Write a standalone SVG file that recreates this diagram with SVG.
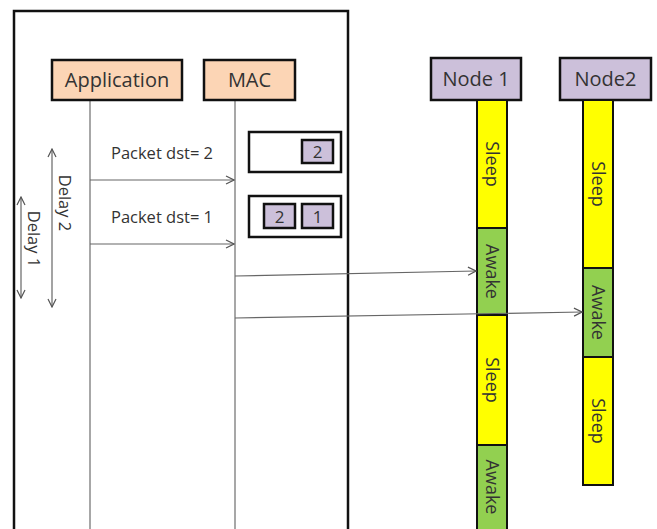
<svg xmlns="http://www.w3.org/2000/svg" width="657" height="529" viewBox="0 0 657 529">
  <style>
    text { font-family: "Open Sans", "Liberation Sans", sans-serif; fill: #333; }
    .box { stroke: #111; stroke-width: 2.5; }
    .app { fill: #fcd5b5; }
    .node { fill: #ccc0da; }
    .life { stroke: #8a8a8a; stroke-width: 1.5; fill: none; }
    .msg { stroke: #666; stroke-width: 1.2; fill: none; }
    .sleep { fill: #ffff00; stroke: #111; stroke-width: 2; }
    .awake { fill: #92d050; stroke: #111; stroke-width: 2; }
    .lbl { font-size: 20px; text-anchor: middle; }
    .seg { font-size: 18px; text-anchor: middle; }
    .small { font-size: 16.5px; text-anchor: middle; }
    .digit { font-size: 17px; text-anchor: middle; }
  </style>
  <defs>
    <marker id="open" markerWidth="10" markerHeight="10" refX="9" refY="5" orient="auto" markerUnits="userSpaceOnUse">
      <path d="M1,1 L9,5 L1,9" fill="none" stroke="#555" stroke-width="1.2"/>
    </marker>
    <marker id="openStart" markerWidth="10" markerHeight="10" refX="1" refY="5" orient="auto" markerUnits="userSpaceOnUse">
      <path d="M9,1 L1,5 L9,9" fill="none" stroke="#555" stroke-width="1.2"/>
    </marker>
  </defs>

  <rect width="657" height="529" fill="#fff"/>

  <!-- host frame (open at bottom) -->
  <path d="M14,529 L14,11 L348,11 L348,529" fill="none" stroke="#111" stroke-width="2.5"/>

  <!-- lifelines -->
  <g id="lifelines">
    <line class="life" x1="90" y1="100" x2="90" y2="529"/>
    <line class="life" x1="235" y1="100" x2="235" y2="529"/>
  </g>

  <g id="application">
    <rect class="box app" x="52" y="60" width="130" height="40"/>
    <text class="lbl" x="117" y="87">Application</text>
  </g>
  <g id="mac">
    <rect class="box app" x="204" y="60" width="91" height="40"/>
    <text class="lbl" x="249.5" y="87">MAC</text>
  </g>

  <!-- MAC queue snapshots -->
  <g id="queue1">
    <rect class="box" fill="#fff" x="249" y="132" width="92" height="40"/>
    <rect class="box node" x="302" y="140" width="31" height="23"/>
    <text class="digit" x="317.5" y="158">2</text>
  </g>
  <g id="queue2">
    <rect class="box" fill="#fff" x="249" y="196" width="92" height="41"/>
    <rect class="box node" x="264" y="204" width="31" height="24"/>
    <text class="digit" x="279.5" y="222.5">2</text>
    <rect class="box node" x="302" y="204" width="31" height="24"/>
    <text class="digit" x="317.5" y="222.5">1</text>
  </g>

  <!-- node 1 -->
  <g id="node1">
    <rect class="box node" x="431" y="58" width="90" height="42"/>
    <text class="lbl" x="476" y="86">Node 1</text>
    <rect class="sleep" x="477" y="100" width="30" height="128"/>
    <rect class="awake" x="477" y="228" width="30" height="87"/>
    <rect class="sleep" x="477" y="315" width="30" height="130"/>
    <rect class="awake" x="477" y="445" width="30" height="90"/>
    <text class="seg" transform="translate(486,164) rotate(90)">Sleep</text>
    <text class="seg" transform="translate(486,271.5) rotate(90)">Awake</text>
    <text class="seg" transform="translate(486,380) rotate(90)">Sleep</text>
    <text class="seg" transform="translate(486,487) rotate(90)">Awake</text>
  </g>

  <!-- node 2 -->
  <g id="node2">
    <rect class="box node" x="560" y="58" width="91" height="42"/>
    <text class="lbl" x="605.5" y="86">Node2</text>
    <rect class="sleep" x="583" y="100" width="30" height="168"/>
    <rect class="awake" x="583" y="268" width="30" height="89"/>
    <rect class="sleep" x="583" y="357" width="30" height="128"/>
    <text class="seg" transform="translate(592,184) rotate(90)">Sleep</text>
    <text class="seg" transform="translate(592,312.5) rotate(90)">Awake</text>
    <text class="seg" transform="translate(592,421) rotate(90)">Sleep</text>
  </g>

  <!-- messages and delay spans -->
  <g id="connectors">
    <line class="msg" x1="90" y1="180" x2="234" y2="180" marker-end="url(#open)"/>
    <text class="small" x="162" y="159">Packet dst= 2</text>
    <line class="msg" x1="90" y1="244" x2="234" y2="244" marker-end="url(#open)"/>
    <text class="small" x="162" y="223">Packet dst= 1</text>
    <line class="msg" x1="235" y1="276" x2="476" y2="271" marker-end="url(#open)"/>
    <line class="msg" x1="235" y1="318" x2="582" y2="312" marker-end="url(#open)"/>

    <line class="msg" x1="52" y1="149" x2="52" y2="307" marker-start="url(#openStart)" marker-end="url(#open)"/>
    <text class="small" transform="translate(59,203) rotate(90)">Delay 2</text>
    <line class="msg" x1="21" y1="197" x2="21" y2="298" marker-start="url(#openStart)" marker-end="url(#open)"/>
    <text class="small" transform="translate(28,239) rotate(90)">Delay 1</text>
  </g>
</svg>
